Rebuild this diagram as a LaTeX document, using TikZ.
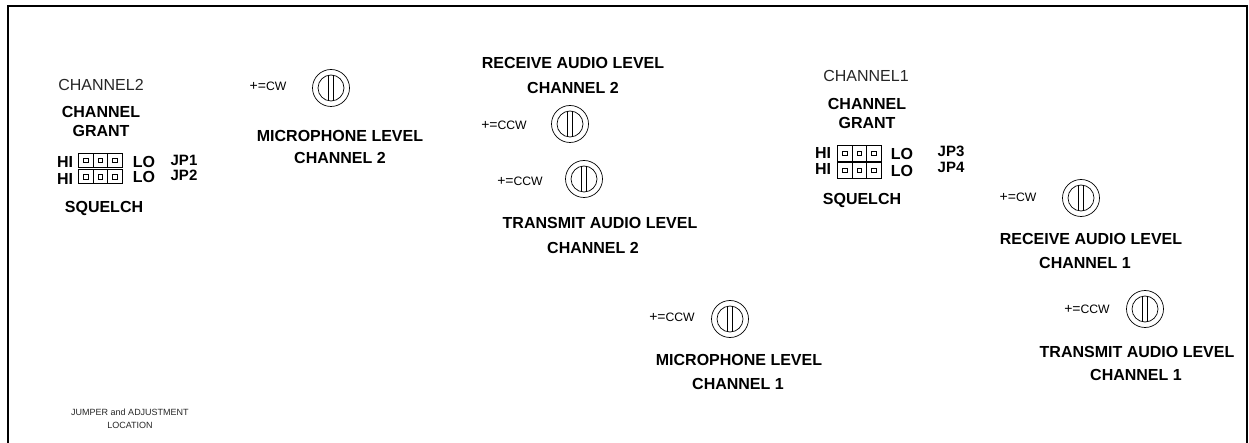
\documentclass[tikz,border=0pt]{standalone}
\usepackage{fontspec}
\setmainfont{Liberation Sans}
\newcommand{\knobat}[2]{%
  \node[knobouter] (#1) at (#2) {};
  \node[knobinner] (#1i) at (#2) {};
  \draw[thin line] ([xshift=-2.8pt]#1i.north) -- ([xshift=-2.8pt]#1i.south);
  \draw[thin line] ([xshift=2.8pt]#1i.north) -- ([xshift=2.8pt]#1i.south);
}
\newcommand{\jumperat}[4]{% name, left x, top y, cell height
  \foreach \c [count=\n from 0] in {a,b,c}{
    \node[jcell, minimum height=#4pt, minimum width=14.6pt, anchor=north west] (#1\c) at ({#2+14.6*\n},#3) {};
    \node[jpin] (#1\c p) at (#1\c.center) {};
  }
}
\newcommand{\sg}[1]{+=\fontsize{12.2}{15}\selectfont #1}
\tikzset{
  x=1pt,y=-1pt,
  thin line/.style={line width=0.7pt,black},
  frameline/.style={line width=2pt,black},
  lab/.style={inner sep=0pt,font=\fontsize{16}{18}\selectfont\bfseries,align=center},
  jlab/.style={inner sep=0pt,font=\fontsize{15}{18}\selectfont\bfseries},
  reg/.style={inner sep=0pt,font=\fontsize{16}{18}\selectfont,text=black!85},
  sgn/.style={inner sep=0pt,font=\fontsize{14}{15}\selectfont},
  tiny/.style={inner sep=0pt,font=\fontsize{9}{12.5}\selectfont,align=center,text=black!85},
  knobouter/.style={circle,draw,line width=0.7pt,minimum size=37pt,inner sep=0pt},
  knobinner/.style={circle,draw,line width=0.7pt,minimum size=26pt,inner sep=0pt},
  jcell/.style={draw,line width=0.7pt,inner sep=0pt},
  jpin/.style={draw,line width=0.6pt,minimum size=4.6pt,inner sep=0pt},
}
\begin{document}
\begin{tikzpicture}
\useasboundingbox (0,0) rectangle (1249,443);
\coordinate (fbl) at (8,443);
\coordinate (ftl) at (8,6);
\coordinate (ftr) at (1247,6);
\coordinate (fbr) at (1247,443);
\draw[frameline] (fbl) -- (ftl) -- (ftr) -- (fbr);
% channel 2
\node[reg] (c2) at (101,85) {CHANNEL2};
\node[lab] (c2a) at (101,112) {CHANNEL};
\node[lab] (c2b) at (101,131) {GRANT};
\node[lab] (hi1) at (65,162) {HI};
\node[lab] (hi2) at (65,179) {HI};
\node[lab] (lo1) at (144,162) {LO};
\node[lab] (lo2) at (144,177) {LO};
\node[jlab] (jp1) at (184,160) {JP1};
\node[jlab] (jp2) at (184,175) {JP2};
\node[lab] (sq2) at (104,208) {SQUELCH};
\jumperat{ja}{78}{153}{14}
\jumperat{jb}{78}{169.5}{14}
% channel 1
\node[reg] (c1) at (866,76) {CHANNEL1};
\node[lab] (c1a) at (867,104) {CHANNEL};
\node[lab] (c1b) at (867,123) {GRANT};
\node[lab] (hi3) at (823,153) {HI};
\node[lab] (hi4) at (823,169) {HI};
\node[lab] (lo3) at (902,154) {LO};
\node[lab] (lo4) at (902,171) {LO};
\node[jlab] (jp3) at (951,151) {JP3};
\node[jlab] (jp4) at (951,167) {JP4};
\node[lab] (sq1) at (862,200) {SQUELCH};
\jumperat{jc}{837}{145}{16}
\jumperat{jd}{837}{162}{16}
% knobs
\knobat{k1}{331,88}
\node[sgn] (s1) at (268,86) {\sg{CW}};
\node[lab] (m2a) at (340,136) {MICROPHONE LEVEL};
\node[lab] (m2b) at (340,158) {CHANNEL 2};
\node[lab] (r2a) at (573,63) {RECEIVE AUDIO LEVEL};
\node[lab] (r2b) at (573,88) {CHANNEL 2};
\knobat{k2}{570,124}
\node[sgn] (s2) at (504,125) {\sg{CCW}};
\knobat{k3}{584,179}
\node[sgn] (s3) at (520,181) {\sg{CCW}};
\node[lab] (t2a) at (600,223) {TRANSMIT AUDIO LEVEL};
\node[lab] (t2b) at (593,248) {CHANNEL 2};
\knobat{k4}{730,319}
\node[sgn] (s4) at (672,317) {\sg{CCW}};
\node[lab] (m1a) at (739,360) {MICROPHONE LEVEL};
\node[lab] (m1b) at (738,384) {CHANNEL 1};
\knobat{k5}{1081,198}
\node[sgn] (s5) at (1018,197) {\sg{CW}};
\node[lab] (r1a) at (1091,239) {RECEIVE AUDIO LEVEL};
\node[lab] (r1b) at (1085,263) {CHANNEL 1};
\knobat{k6}{1145,309}
\node[sgn] (s6) at (1087,309) {\sg{CCW}};
\node[lab] (t1a) at (1137,352) {TRANSMIT AUDIO LEVEL};
\node[lab] (t1b) at (1136,375) {CHANNEL 1};
\node[tiny] (cap) at (130,419) {JUMPER and ADJUSTMENT\\LOCATION};
\end{tikzpicture}
\end{document}
